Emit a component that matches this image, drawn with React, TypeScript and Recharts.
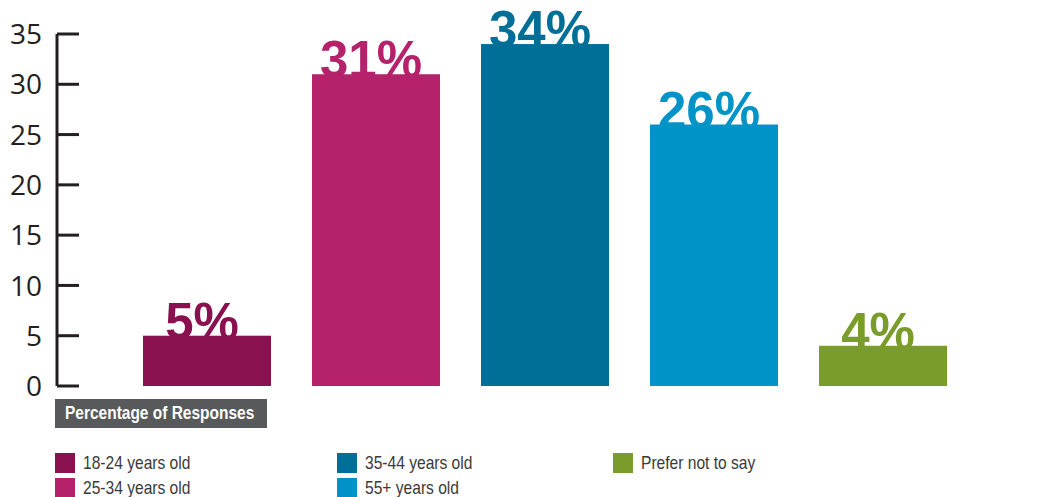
import React from 'react';
import { BarChart, Bar, XAxis, YAxis } from 'recharts';

const categories = ['18-24 years old', '25-34 years old', '35-44 years old', '55+ years old', 'Prefer not to say'];
const shares = [5, 31, 34, 26, 4];
const yTicks = [0, 5, 10, 15, 20, 25, 30, 35];
const legendTitle = 'Percentage of Responses';

// one colour per age group, same order as categories
const COLORS = ['#8a1150', '#b5226b', '#006f98', '#0093c8', '#7a9c2a'];

// legend laid out in columns of two
const legendColumns = [[0, 1], [2, 3], [4]];

const data = categories.map((name, i) => ({ name, value: shares[i] }));

const AXIS = '#231f20';
const SANS = '"Liberation Sans", Arial, sans-serif';

// no condensed face available, so squeeze the regular one horizontally
const Narrow: React.FC<{ scale: number; children: React.ReactNode }> = ({ scale, children }) => (
  <span style={{ display: 'inline-block', transform: `scaleX(${scale})`, transformOrigin: 'left center', whiteSpace: 'nowrap' }}>
    {children}
  </span>
);

// bar with its percentage drawn first, so the bar sits over the bottom of the digits
const LabeledBar = (props: any) => {
  const { x, y, width, height, index, payload } = props;
  const color = COLORS[index];
  return (
    <g>
      <text
        x={x + width / 2 - 5}
        y={y + 3}
        textAnchor="middle"
        fill={color}
        fontFamily={SANS}
        fontWeight={700}
        fontSize={51}
      >
        {payload.value}%
      </text>
      <rect x={x} y={y} width={width} height={height} fill={color} />
    </g>
  );
};

// tick label on the left, short tick line pointing into the plot
const YTick = (props: any) => {
  const { x, y, payload } = props;
  return (
    <g>
      <text
        x={x}
        y={y}
        dy="0.36em"
        textAnchor="end"
        fill={AXIS}
        fontFamily="'Open Sans', sans-serif"
        fontSize={28}
      >
        {payload.value}
      </text>
      <line x1={x + 15} x2={x + 37} y1={y} y2={y} stroke={AXIS} strokeWidth={3} />
    </g>
  );
};

const App: React.FC = () => {
  return (
    <div style={{ position: 'relative', width: 1060, height: 497, background: '#fff', overflow: 'hidden' }}>
      <style>{'body { margin: 0; }'}</style>
      <BarChart
        width={1060}
        height={497}
        data={data}
        margin={{ top: 34, right: 0, bottom: 111, left: 0 }}
      >
        <XAxis
          dataKey="name"
          tick={false}
          tickLine={false}
          height={0}
          padding={{ left: 65, right: 93 }}
          axisLine={{ stroke: AXIS, strokeWidth: 3 }}
        />
        <YAxis
          width={57}
          domain={[0, 35]}
          ticks={yTicks}
          interval={0}
          tickSize={0}
          tickMargin={15}
          tick={<YTick />}
          axisLine={{ stroke: AXIS, strokeWidth: 3 }}
        />
        <Bar dataKey="value" barSize={128} shape={<LabeledBar />} isAnimationActive={false} />
      </BarChart>

      <div
        style={{
          position: 'absolute',
          left: 55,
          top: 399,
          width: 212,
          height: 29,
          background: '#58595b',
          color: '#fff',
          fontFamily: SANS,
          fontWeight: 700,
          fontSize: 18,
          lineHeight: '29px',
          paddingLeft: 10,
          boxSizing: 'border-box',
          overflow: 'hidden',
        }}
      >
        <Narrow scale={0.86}>{legendTitle}</Narrow>
      </div>

      {legendColumns.map((col, c) => (
        <div key={c} style={{ position: 'absolute', left: [55, 337, 613][c], top: 453 }}>
          {col.map((i) => (
            <div key={i} style={{ display: 'flex', alignItems: 'center', height: 20, marginBottom: 5 }}>
              <div style={{ width: 20, height: 20, background: COLORS[i], marginRight: 8, flexShrink: 0 }} />
              <span style={{ fontFamily: SANS, fontSize: 19, color: '#3a3a3a', lineHeight: '20px' }}>
                <Narrow scale={0.82}>{categories[i]}</Narrow>
              </span>
            </div>
          ))}
        </div>
      ))}
    </div>
  );
};

export default App;
